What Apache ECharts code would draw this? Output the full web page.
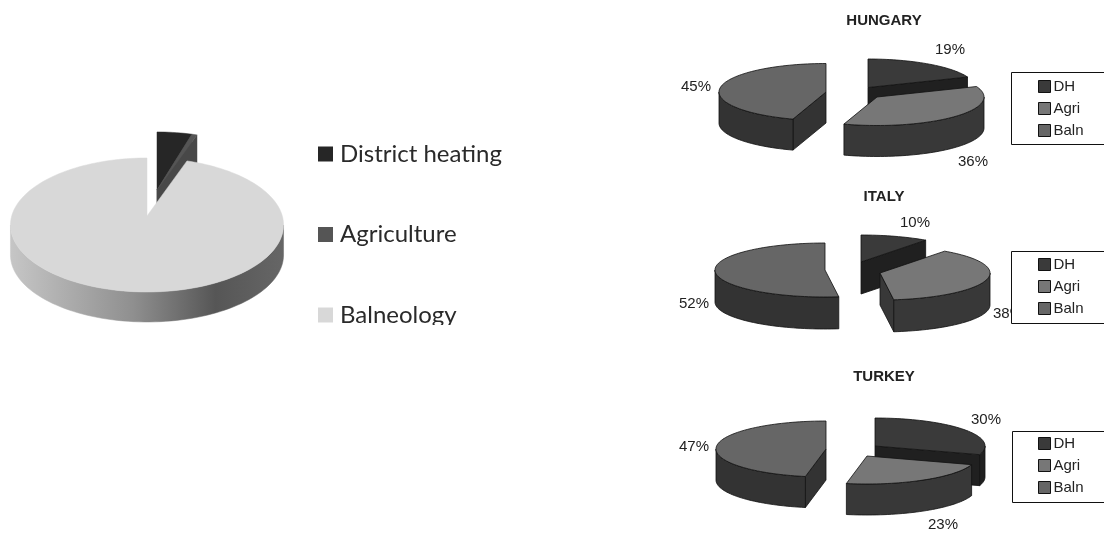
<!DOCTYPE html>
<html><head><meta charset="utf-8">
<style>html,body{margin:0;padding:0;background:#fff}#c{width:1104px;height:534px}</style>
<script src="https://cdn.jsdelivr.net/npm/echarts@6/dist/echarts.min.js"></script>
</head><body><div id="c"></div>
<script>
const mainCategories = ['District heating', 'Agriculture', 'Balneology'];
const mainValues = [4.7, 0.7, 94.6];
const regionCategories = ['DH', 'Agri', 'Baln'];
const countryNames = ['HUNGARY', 'ITALY', 'TURKEY'];
const hungaryValues = [19, 36, 45];
const italyValues = [10, 38, 52];
const turkeyValues = [30, 23, 47];

// layout and styles, separate from the data
const regionTop = ['#3a3a3a', '#777777', '#666666'];
const regionWall = ['#202020', '#383838', '#333333'];
const pies = [
  { cats: mainCategories, values: mainValues, rx: 135.3, ry: 65.8, k: 0.134, h: 30, stroke: null,
    apex: [[157, 190], [157, 190], [147, 216]],
    top: ['#262626', '#555555', '#d8d8d8'],
    wall: ['#444444', '#484848', null], labels: null },
  { cats: regionCategories, values: hungaryValues, rx: 107, ry: 28.5, k: 0, h: 31, stroke: '#111',
    apex: [[868, 87.5], [877, 97], [826, 92]], top: regionTop, wall: regionWall,
    labels: [[950, 50], [973, 162], [696, 87]] },
  { cats: regionCategories, values: italyValues, rx: 110, ry: 27, k: 0, h: 32, stroke: '#111',
    apex: [[861, 262], [880, 273], [825, 270]], top: regionTop, wall: regionWall,
    labels: [[915, 223], [1008, 314], [694, 304]] },
  { cats: regionCategories, values: turkeyValues, rx: 110, ry: 28, k: 0, h: 31, stroke: '#111',
    apex: [[875, 446], [867, 456], [826, 449]], top: regionTop, wall: regionWall,
    labels: [[986, 420], [943, 525], [694, 447]] }
];
const STEP = Math.PI / 90;

function makeRender(pie, idx) {
  const total = pie.values.reduce((a, b) => a + b, 0);
  let sum = 0;
  for (let i = 0; i < idx; i++) sum += pie.values[i];
  const start = sum / total * 2 * Math.PI;
  const [ax, ay] = pie.apex[idx];
  const P = (a) => {
    const u = Math.sin(a), v = -Math.cos(a), f = 1 / (1 - pie.k * v);
    return [ax + pie.rx * u * f, ay + pie.ry * v * f];
  };
  const arc = (a0, a1) => {
    const pts = [], n = Math.max(1, Math.ceil((a1 - a0) / STEP));
    for (let i = 0; i <= n; i++) pts.push(P(a0 + (a1 - a0) * i / n));
    return pts;
  };
  const down = (p) => [p[0], p[1] + pie.h];
  return function (params, api) {
    const end = start + api.value(0) / total * 2 * Math.PI;
    const kids = [];
    const strokeStyle = pie.stroke ? { stroke: pie.stroke, lineWidth: 0.8 } : {};
    const wallFill = pie.wall[idx] || new echarts.graphic.LinearGradient(0, 0, 1, 0, [
      { offset: 0, color: '#c6c6c6' }, { offset: 0.45, color: '#8f8f8f' },
      { offset: 0.75, color: '#565656' }, { offset: 1, color: '#666666' }]);
    const add = (points, fill, z2) => kids.push({
      type: 'polygon', shape: { points }, z2,
      style: Object.assign({ fill }, strokeStyle, pie.stroke ? {} : { stroke: fill, lineWidth: 0.5 })
    });
    const fromEdge = Math.PI / 2 + Math.asin(pie.k);
    const w0 = Math.max(start, fromEdge), w1 = Math.min(end, 2 * Math.PI - fromEdge);
    if (-Math.sin(start) > 0) {
      const r = P(start);
      add([[ax, ay], r, down(r), [ax, ay + pie.h]], pie.wall[idx] || '#555', 1);
    }
    if (Math.sin(end) > 0) {
      const r = P(end);
      add([[ax, ay], r, down(r), [ax, ay + pie.h]], pie.wall[idx] || '#555', 1);
    }
    if (w1 > w0) {
      const front = arc(w0, w1);
      add(front.concat(front.slice().reverse().map(down)), wallFill, 2);
    }
    add([[ax, ay]].concat(arc(start, end)), pie.top[idx], 3);
    if (pie.labels) {
      kids.push({
        type: 'text', z2: 4,
        style: { x: pie.labels[idx][0], y: pie.labels[idx][1], text: Math.round(api.value(0)) + '%',
          fill: '#222', font: '15px "Liberation Sans"', align: 'center', verticalAlign: 'middle' }
      });
    }
    return { type: 'group', children: kids };
  };
}

const series = [];
pies.forEach((pie) => {
  pie.values.forEach((val, i) => {
    series.push({
      type: 'custom', name: pie.cats[i], coordinateSystem: 'none', silent: true,
      animation: false, z: 2, itemStyle: { color: pie.top[i] },
      data: [[val]], renderItem: makeRender(pie, i)
    });
  });
});

const titleTops = [21, 197, 377], titleCenters = [884, 884, 884];
const legendTops = [79, 257, 436];
const boxes = [[1011, 72, 110, 72], [1011, 251, 110, 72], [1012, 431, 110, 71]];

const chart = echarts.init(document.getElementById('c'), null, { renderer: 'canvas' });
chart.setOption({
  animation: false,
  backgroundColor: '#fff',
  title: countryNames.map((t, i) => ({
    text: t, left: titleCenters[i], top: titleTops[i], textAlign: 'center', textVerticalAlign: 'middle', padding: 0,
    textStyle: { fontFamily: 'Liberation Sans', fontSize: 15, fontWeight: 'bold', color: '#222' }
  })),
  legend: [
    { data: mainCategories, orient: 'vertical', left: 318, top: 142, padding: 0, itemWidth: 15, itemHeight: 15,
      itemGap: 56.5, icon: 'rect', selectedMode: false, z: 10,
      textStyle: { fontFamily: 'Lato', fontSize: 24, color: '#2a2a2a', padding: [0, 0, 0, 2] } }
  ].concat(legendTops.map((t) => ({
    data: regionCategories, orient: 'vertical', left: 1038, top: t, padding: 0, itemWidth: 12, itemHeight: 12,
    itemGap: 7, icon: 'rect', selectedMode: false, z: 10,
    itemStyle: { borderColor: '#111', borderWidth: 1 },
    textStyle: { fontFamily: 'Liberation Sans', fontSize: 15, color: '#222', padding: [0, 0, 0, -2] }
  }))),
  graphic: boxes.map((b) => ({
    type: 'rect', shape: { x: b[0] + 0.5, y: b[1] + 0.5, width: b[2], height: b[3] }, z: 5,
    style: { fill: '#fff', stroke: '#111', lineWidth: 1 }, silent: true
  })).concat([{
    type: 'rect', shape: { x: 335, y: 325, width: 170, height: 14 }, z: 11, silent: true, style: { fill: '#fff' }
  }]),
  series
});
</script></body></html>
